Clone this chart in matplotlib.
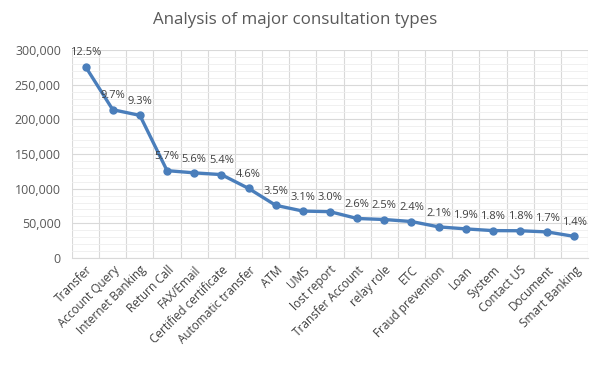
import numpy as np
import matplotlib.pyplot as plt
from matplotlib.ticker import MultipleLocator, FuncFormatter

categories = ["Transfer", "Account Query", "Internet Banking", "Return Call", "FAX/Email",
              "Certified certificate", "Automatic transfer", "ATM", "UMS", "lost report",
              "Transfer Account", "relay role", "ETC", "Fraud prevention", "Loan", "System",
              "Contact US", "Document", "Smart Banking"]
counts = [275900, 213900, 205700, 126000, 122800, 120300, 100400, 76000, 67700, 66800,
          57000, 55500, 52600, 44900, 42000, 39500, 39300, 37600, 31100]
shares = ["12.5%", "9.7%", "9.3%", "5.7%", "5.6%", "5.4%", "4.6%", "3.5%", "3.1%", "3.0%",
          "2.6%", "2.5%", "2.4%", "2.1%", "1.9%", "1.8%", "1.8%", "1.7%", "1.4%"]

plt.rcParams['font.family'] = ['Open Sans', 'DejaVu Sans']

fig = plt.figure(figsize=(6.05, 3.72), dpi=100)
ax = fig.add_axes([72/605, 1 - 258/372, (588-72)/605, (258-50)/372])

x = np.arange(len(categories))
ax.plot(x, counts, color='#4a7ebb', lw=2.4, marker='o', ms=5, zorder=3)
for xi, yi, s in zip(x, counts, shares):
    ax.annotate(s, (xi, yi), xytext=(0, 6), textcoords='offset points',
                ha='center', va='bottom', fontsize=8, color='#404040', zorder=4)

ax.set_xlim(-0.5, len(categories) - 0.5)
ax.set_ylim(0, 300000)
ax.yaxis.set_major_locator(MultipleLocator(50000))
ax.yaxis.set_minor_locator(MultipleLocator(10000))
ax.yaxis.set_major_formatter(FuncFormatter(lambda v, p: f"{int(v):,}"))

ax.set_xticks(x)
ax.set_xticklabels(categories, rotation=45, ha='right', rotation_mode='anchor',
                   fontsize=8.5, color='#404040')
ax.set_xticks(np.arange(-0.5, len(categories), 1), minor=True)
ax.tick_params(axis='x', which='both', length=0, pad=4)
ax.tick_params(axis='y', which='both', length=0, labelsize=9, labelcolor='#595959', pad=8)

ax.grid(axis='y', which='major', color='#d9d9d9', lw=0.8)
ax.grid(axis='y', which='minor', color='#eeeeee', lw=0.6)
ax.grid(axis='x', which='minor', color='#d9d9d9', lw=0.8)
ax.grid(axis='x', which='major', visible=False)

for side in ['top', 'right', 'left']:
    ax.spines[side].set_visible(False)
ax.spines['bottom'].set_color('#d9d9d9')

fig.text(0.488, 1 - 20/372, "Analysis of major consultation types", ha='center', va='center',
         fontsize=12.2, color='#595959')

fig.savefig('out.png', dpi=100)
